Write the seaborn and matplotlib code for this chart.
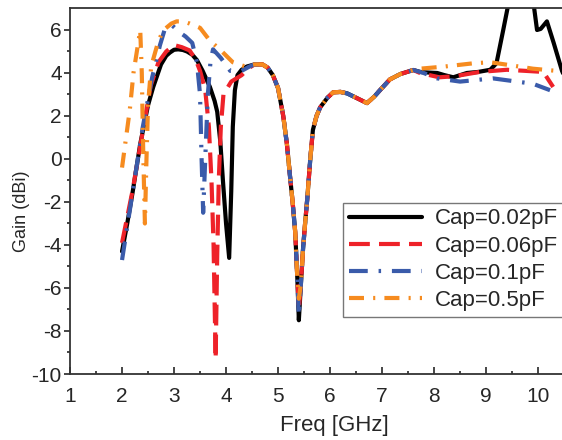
import matplotlib
matplotlib.use("Agg")
import matplotlib.pyplot as plt
import seaborn as sns

# Gain vs frequency.
# Segment shared by all four curves around the 5.4 GHz notch (read once)
freq_mid = [4.55, 4.7, 4.8, 4.9, 5.0, 5.1, 5.17, 5.23, 5.28, 5.33, 5.37]
gain_mid = [4.4, 4.4, 4.25, 3.9, 3.3, 2.0, 0.7, -0.8, -2.0, -3.4, -5.5]
freq_tail = [5.44, 5.48, 5.52, 5.56, 5.62, 5.67, 5.74, 5.81, 5.95, 6.06, 6.2, 6.33, 6.5,
             6.71, 6.85, 6.96, 7.15, 7.35, 7.6]
gain_tail = [-5.8, -4.2, -3.0, -1.9, 0.0, 1.35, 2.0, 2.4, 2.85, 3.1, 3.12, 3.05, 2.85,
             2.6, 2.9, 3.2, 3.7, 3.95, 4.14]
notch_freq = 5.4
notch_gain = [-7.5, -7.0, -7.3, -6.5]

# Cap = 0.02 pF
freq_002_head = [2.0, 2.1, 2.2, 2.35, 2.5, 2.6, 2.75, 2.85, 2.92, 3.0, 3.08, 3.17, 3.25, 3.35,
                 3.44, 3.55, 3.69, 3.78, 3.83, 3.89, 3.94, 4.0, 4.06, 4.1, 4.13, 4.17, 4.22,
                 4.3, 4.4]
gain_002_head = [-4.3, -3.0, -1.6, 0.7, 2.5, 3.35, 4.4, 4.8, 4.95, 5.08, 5.1, 5.07, 5.0, 4.85,
                 4.6, 4.1, 3.35, 2.7, 2.2, 0.8, -1.0, -3.0, -4.6, -1.5, 1.5, 3.2, 3.9,
                 4.15, 4.3]
freq_002_end = [7.73, 7.9, 8.06, 8.2, 8.37, 8.5, 8.63, 8.85, 9.08, 9.2, 9.33, 9.42, 9.55, 9.7,
                9.85, 9.92, 9.98, 10.05, 10.17, 10.3, 10.46, 10.6]
gain_002_end = [4.05, 4.02, 4.0, 3.9, 3.8, 3.9, 4.0, 4.05, 4.15, 4.45, 6.0, 7.1, 8.8, 9.3,
                8.5, 7.1, 6.0, 6.05, 6.4, 5.4, 4.1, 3.3]

# Cap = 0.06 pF
freq_006_head = [2.0, 2.2, 2.4, 2.55, 2.7, 2.85, 3.0, 3.15, 3.3, 3.42, 3.5, 3.6, 3.67, 3.72,
                 3.76, 3.8, 3.83, 3.86, 3.9, 3.95, 4.1, 4.3, 4.45]
gain_006_head = [-3.9, -1.5, 1.3, 3.4, 4.5, 5.0, 5.3, 5.2, 5.05, 4.6, 4.1, 3.2, 1.5, -1.0,
                 -4.0, -9.3, -4.5, -1.0, 1.5, 3.0, 3.6, 3.9, 4.25]
freq_006_end = [7.73, 8.1, 8.4, 8.88, 9.4, 10.1, 10.29]
gain_006_end = [4.0, 3.8, 3.85, 4.05, 4.15, 4.05, 3.35]

# Cap = 0.1 pF
freq_01_head = [2.0, 2.2, 2.4, 2.58, 2.73, 2.83, 2.97, 3.1, 3.22, 3.35, 3.44, 3.5, 3.53,
                3.56, 3.6, 3.65, 3.7, 3.75, 3.9, 4.08, 4.3, 4.45]
gain_01_head = [-4.7, -1.6, 1.5, 3.8, 5.3, 6.1, 6.2, 5.9, 5.7, 5.4, 4.5, 3.0, 0.0,
                -2.5, 0.0, 3.0, 4.5, 5.1, 4.7, 4.1, 4.1, 4.3]
freq_01_end = [7.8, 8.06, 8.5, 9.13, 9.9, 10.23]
gain_01_end = [4.0, 3.75, 3.6, 3.75, 3.5, 3.2]

# Cap = 0.5 pF
freq_05_head = [2.0, 2.15, 2.22, 2.35, 2.38, 2.41, 2.44, 2.47, 2.5, 2.56, 2.7, 2.8, 2.95,
                3.05, 3.18, 3.3, 3.5, 3.69, 3.88, 4.13, 4.37]
gain_05_head = [-0.4, 2.3, 4.0, 6.0, 4.0, 0.0, -3.0, 0.0, 2.5, 4.3, 5.5, 6.0, 6.3,
                6.4, 6.4, 6.3, 6.1, 5.5, 5.1, 4.5, 4.3]
freq_05_end = [7.73, 8.2, 8.75, 9.08, 9.5, 9.9, 10.35]
gain_05_end = [4.2, 4.3, 4.45, 4.5, 4.35, 4.2, 4.1]

labels = ["Cap=0.02pF", "Cap=0.06pF", "Cap=0.1pF", "Cap=0.5pF"]
colors = ["#000000", "#EE2229", "#3A5BAA", "#F68B1F"]
styles = ["-", (0, (5, 2.2)), (0, (4.5, 2.6, 0.6, 2.6)), (0, (3.6, 2.2, 0.5, 2.2))]

heads = [(freq_002_head, gain_002_head), (freq_006_head, gain_006_head),
         (freq_01_head, gain_01_head), (freq_05_head, gain_05_head)]
ends = [(freq_002_end, gain_002_end), (freq_006_end, gain_006_end),
        (freq_01_end, gain_01_end), (freq_05_end, gain_05_end)]

sns.set_style("ticks")
plt.rcParams["font.family"] = ["Liberation Sans", "DejaVu Sans"]
plt.rcParams["axes.unicode_minus"] = False

fig = plt.figure(figsize=(5.62, 4.40), dpi=100)
ax = fig.add_axes([0.1246, 0.15, 0.8754, 0.8307])

for (hx, hy), (ex, ey), nmin, lab, col, ls in zip(heads, ends, notch_gain, labels, colors, styles):
    fx = hx + freq_mid + [notch_freq] + freq_tail + ex
    gy = hy + gain_mid + [nmin] + gain_tail + ey
    sns.lineplot(x=fx, y=gy, ax=ax, color=col, linewidth=3.0, linestyle=ls,
                 label=lab, sort=False, estimator=None)

ax.set_xlim(1, 10.46)
ax.set_ylim(-10, 7)
ax.set_xticks(range(1, 11))
ax.set_xticks([x + 0.5 for x in range(1, 10)], minor=True)
ax.set_yticks(range(-10, 7, 2))
ax.set_yticks(range(-9, 7, 2), minor=True)

ax.tick_params(axis="x", which="major", direction="in", length=5, width=1.2, labelsize=15, pad=9)
ax.tick_params(axis="x", which="minor", direction="in", length=2.5, width=1.2)
ax.tick_params(axis="y", which="major", direction="out", length=4, width=1.2, labelsize=15, pad=2)
ax.tick_params(axis="y", which="minor", direction="out", length=2.5, width=1.2)

for side in ["left", "bottom", "top"]:
    ax.spines[side].set_color("#333333")
    ax.spines[side].set_linewidth(1.3)
ax.spines["right"].set_visible(False)

ax.set_xlabel("Freq [GHz]", fontsize=16)
ax.set_ylabel("Gain (dBi)", fontsize=13)
ax.xaxis.set_label_coords(0.537, -0.112)
ax.yaxis.set_label_coords(-0.081, 0.446)

leg = ax.legend(loc="upper left", bbox_to_anchor=(0.555, 0.468), borderaxespad=0,
                fontsize=16, frameon=True, fancybox=False, handlelength=3.3,
                handletextpad=0.6, labelspacing=0.28, borderpad=0.25)
leg.get_frame().set_edgecolor("#555555")
leg.get_frame().set_linewidth(1.0)

fig.savefig("out.png", dpi=100)
